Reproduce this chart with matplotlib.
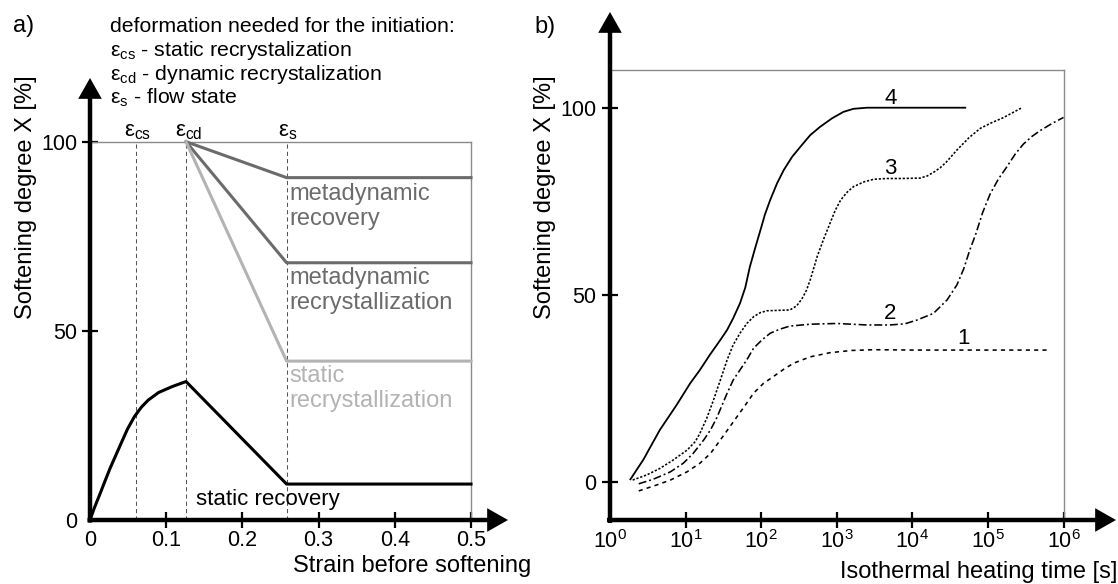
import numpy as np
import matplotlib.pyplot as plt

plt.rcParams['font.family'] = ['Liberation Sans', 'DejaVu Sans']

# ---- a) softening vs strain
eps_cs, eps_cd, eps_s = 0.06, 0.126, 0.258
strain_rec = [0, 0.0059, 0.0127, 0.0195, 0.0264, 0.0332, 0.04, 0.0491, 0.0582, 0.0673,
              0.0764, 0.09, 0.1082, 0.126, 0.258, 0.5]
soft_rec = [0, 3.3, 6.7, 10.2, 13.7, 16.8, 19.9, 24.0, 27.3, 29.8,
            31.7, 33.7, 35.3, 36.6, 9.5, 9.5]
meta_rec_level = 90.5
meta_rex_level = 68.0
static_rex_level = 42.0
strain_ticks = [0, 0.1, 0.2, 0.3, 0.4, 0.5]
strain_labels = ['0', '0.1', '0.2', '0.3', '0.4', '0.5']

# ---- b) softening vs isothermal heating time (log10 of seconds read off the axis)
c4_logt = [0.27, 0.44, 0.66, 0.88, 1.06, 1.19, 1.32, 1.46, 1.55, 1.63, 1.72, 1.79, 1.85,
           1.92, 1.99, 2.05, 2.12, 2.21, 2.3, 2.41, 2.52, 2.65, 2.78, 2.94, 3.09, 3.22,
           3.4, 4.7]
c4_x = [0.8, 6.0, 14.0, 20.6, 26.4, 30.0, 34.0, 38.0, 40.7, 43.8, 47.8, 52.0, 57.5,
        62.5, 67.3, 71.5, 75.4, 79.8, 83.4, 86.9, 89.6, 92.7, 94.9, 97.2, 98.9, 99.7,
        100, 100]
c3_logt = [0.3, 0.49, 0.66, 0.84, 1.02, 1.13, 1.19, 1.28, 1.37, 1.46, 1.55, 1.63, 1.72,
           1.81, 1.9, 1.99, 2.08, 2.38, 2.47, 2.54, 2.6, 2.65, 2.74, 2.83, 2.91, 2.98,
           3.05, 3.14, 3.22, 3.36, 3.49, 3.66, 3.84, 4.1, 4.2, 4.3, 4.37, 4.45, 4.59,
           4.75, 4.9, 5.05, 5.2, 5.45]
c3_x = [0.6, 2.0, 3.7, 6.0, 8.6, 10.9, 13.1, 17.1, 22.0, 27.3, 32.7, 36.7, 39.8,
        42.4, 44.2, 45.3, 45.8, 46.0, 47.1, 49.0, 51.3, 54.1, 60.2, 65.1, 69.1, 72.6,
        75.3, 77.5, 78.9, 80.2, 80.9, 81.1, 81.1, 81.2, 81.8, 83.0, 84.0, 85.5, 88.7,
        92.0, 94.5, 96.0, 97.3, 100]
c2_logt = [0.38, 0.57, 0.8, 0.97, 1.1, 1.24, 1.33, 1.41, 1.55, 1.63, 1.72, 1.81, 1.9,
           2.01, 2.12, 2.25, 2.38, 2.65, 3.0, 3.4, 3.7, 3.9, 4.06, 4.28, 4.46, 4.59, 4.68,
           4.76, 4.84, 4.93, 5.03, 5.14, 5.25, 5.36, 5.47, 5.58, 5.7, 5.85, 6.0]
c2_x = [-0.4, 0.8, 2.8, 5.1, 7.7, 11.3, 14.0, 17.1, 23.8, 27.3, 30.0, 32.7, 35.8,
        38.0, 39.8, 40.9, 41.7, 42.2, 42.4, 42.0, 42.0, 42.3, 43.3, 45.1, 48.7, 52.7, 57.0,
        62.0, 66.3, 72.0, 77.0, 81.0, 84.2, 87.6, 90.3, 92.3, 94.0, 95.8, 97.4]
c1_logt = [0.38, 0.62, 0.8, 1.02, 1.19, 1.33, 1.46, 1.57, 1.68, 1.79, 1.9, 2.03, 2.16,
           2.3, 2.43, 2.65, 2.91, 3.2, 3.5, 4.0, 5.0, 5.83]
c1_x = [-2.3, -0.7, 0.6, 2.8, 5.1, 7.7, 11.3, 14.4, 17.5, 20.6, 23.8, 26.4, 28.2,
        30.2, 31.8, 33.5, 34.6, 35.2, 35.4, 35.3, 35.3, 35.3]
time_ticks = [1, 10, 100, 1e3, 1e4, 1e5, 1e6]
time_labels = [r'$\mathregular{10^{%d}}$' % i for i in range(7)]

W, H = 1118, 584
fig = plt.figure(figsize=(W / 100, H / 100), dpi=100)


def box(x0, y0, x1, y1):
    return [x0 / W, 1 - y1 / H, (x1 - x0) / W, (y1 - y0) / H]


def fpos(px, py):
    return px / W, 1 - py / H


def arrows(ax):
    for sp in ax.spines.values():
        sp.set_visible(False)
    kw = dict(xycoords='axes fraction', textcoords='axes fraction',
              arrowprops=dict(facecolor='black', edgecolor='none', width=3.2,
                              headwidth=17, headlength=15, shrink=0))
    ax.annotate('', xy=(1, 0), xytext=(-0.006, 0), **kw)
    ax.annotate('', xy=(0, 1), xytext=(0, -0.006), **kw)


frame_col = '#8a8a8a'
dark = '#6b6b6b'
light = '#b3b3b3'
tick_fs = 15.5
label_fs = 17

# ---------------- panel a
axL = fig.add_axes(box(90, 78, 508, 520))
axL.set_xlim(0, 0.5 * 418 / 381)
axL.set_ylim(0, 100 * 442 / 378.3)
axL.patch.set_visible(False)
arrows(axL)

axL.plot([0, 0.5], [100, 100], color=frame_col, lw=1)
axL.plot([0.5, 0.5], [0, 100], color=frame_col, lw=1)
for e in (eps_cs, eps_cd, eps_s):
    axL.plot([e, e], [0, 100], color='#555555', lw=0.75, ls=(0, (4, 3)))

axL.plot(strain_rec, soft_rec, color='black', lw=2.2, solid_joinstyle='round')
axL.plot([eps_cd, eps_s, 0.5], [100, meta_rec_level, meta_rec_level], color=dark, lw=2.2)
axL.plot([eps_cd, eps_s, 0.5], [100, meta_rex_level, meta_rex_level], color=dark, lw=2.2)
axL.plot([eps_cd, eps_s, 0.5], [100, static_rex_level, static_rex_level], color=light, lw=2.2)

axL.text(0.2618, 82.9, 'metadynamic\nrecovery', color=dark, fontsize=17,
         va='center', ha='left', linespacing=1.15)
axL.text(0.2618, 60.7, 'metadynamic\nrecrystallization', color=dark, fontsize=17,
         va='center', ha='left', linespacing=1.15)
axL.text(0.2618, 34.8, 'static\nrecrystallization', color=light, fontsize=17,
         va='center', ha='left', linespacing=1.15)
axL.text(0.1397, 5.5, 'static recovery', color='black', fontsize=16, va='center', ha='left')

axL.text(eps_cs + 0.003, 101.3, r'$\mathregular{ε_{cs}}$', fontsize=16, ha='center', va='baseline')
axL.text(eps_cd + 0.003, 101.3, r'$\mathregular{ε_{cd}}$', fontsize=16, ha='center', va='baseline')
axL.text(eps_s + 0.002, 101.3, r'$\mathregular{ε_{s}}$', fontsize=16, ha='center', va='baseline')

axL.set_xticks(strain_ticks)
axL.set_xticklabels(strain_labels)
axL.set_yticks([0, 50, 100])
axL.set_yticklabels(['0', '50', '100'])
axL.tick_params(direction='inout', length=12, width=1.6, labelsize=tick_fs, pad=1)
axL.tick_params(axis='y', pad=3)
axL.xaxis.get_major_ticks()[0].tick1line.set_visible(False)
axL.yaxis.get_major_ticks()[0].tick1line.set_visible(False)

# ---------------- panel b
axR = fig.add_axes(box(610, 12, 1116, 520))
axR.set_xscale('log')
axR.set_xlim(1, 10 ** (6 * 506 / 453.5))
y0 = -(520 - 482.3) / 3.746
axR.set_ylim(y0, y0 + 508 / 3.746)
axR.patch.set_visible(False)
arrows(axR)

axR.plot([1, 1e6], [110, 110], color=frame_col, lw=1)
axR.plot([1e6, 1e6], [y0, 110], color=frame_col, lw=1)

lw = 1.15
axR.plot(10 ** np.array(c4_logt), c4_x, color='black', lw=1.3, solid_joinstyle='round')
axR.plot(10 ** np.array(c3_logt), c3_x, color='black', lw=lw, ls=(0, (1.4, 1.1)))
axR.plot(10 ** np.array(c2_logt), c2_x, color='black', lw=lw, ls=(0, (5, 1.8, 1.2, 1.8)))
axR.plot(10 ** np.array(c1_logt), c1_x, color='black', lw=lw, ls=(0, (2.6, 2.6)))

for lab, lt, yv in (('4', 3.71, 102.5), ('3', 3.71, 83.8), ('2', 3.71, 45.1), ('1', 4.68, 38.4)):
    axR.text(10 ** lt, yv, lab, fontsize=16, ha='center', va='center')

axR.set_xticks(time_ticks)
axR.set_xticklabels(time_labels)
axR.minorticks_off()
axR.set_yticks([0, 50, 100])
axR.set_yticklabels(['0', '50', '100'])
axR.tick_params(direction='inout', length=12, width=1.6, labelsize=tick_fs, pad=1)
axR.tick_params(axis='y', pad=4)
axR.xaxis.get_major_ticks()[0].tick1line.set_visible(False)

# ---------------- figure texts
fig.text(*fpos(13, 32), 'a)', fontsize=17, va='baseline')
fig.text(*fpos(534, 33), 'b)', fontsize=17, va='baseline')
fig.text(*fpos(110, 32), 'deformation needed for the initiation:', fontsize=15.3, va='baseline')
fig.text(*fpos(110, 56), r'$\mathregular{ε_{cs}}$ - static recrystalization', fontsize=15.3, va='baseline')
fig.text(*fpos(110, 80), r'$\mathregular{ε_{cd}}$ - dynamic recrystalization', fontsize=15.3, va='baseline')
fig.text(*fpos(110, 104), r'$\mathregular{ε_{s}}$ - flow state', fontsize=15.3, va='baseline')

fig.text(*fpos(26, 197), 'Softening degree X [%]', fontsize=label_fs, rotation=90, ha='center', va='center')
fig.text(*fpos(545, 197), 'Softening degree X [%]', fontsize=label_fs, rotation=90, ha='center', va='center')
fig.text(*fpos(531, 566), 'Strain before softening', fontsize=label_fs, ha='right', va='center')
fig.text(*fpos(1117, 572), 'Isothermal heating time [s]', fontsize=label_fs, ha='right', va='center')

fig.savefig('out.png', dpi=100, facecolor='white')
